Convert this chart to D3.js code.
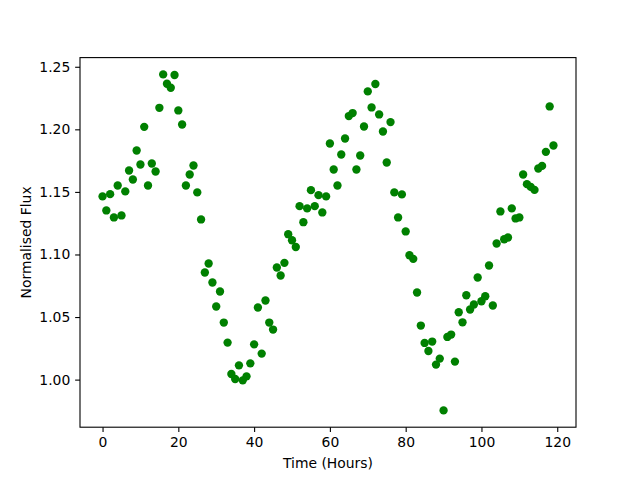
<!DOCTYPE html>
<html>
<head>
<meta charset="utf-8">
<script src="https://cdn.jsdelivr.net/npm/d3@7"></script>
<style>
  html, body { margin: 0; padding: 0; background: #fff; }
  svg { display: block; }
  text { font-family: "DejaVu Sans", sans-serif; fill: #000; }
</style>
</head>
<body>
<svg id="chart" width="640" height="480"></svg>
<script>
const hours = d3.range(0, 120);
const flux = [
  1.1464, 1.1352, 1.1482, 1.1296, 1.1551, 1.1312, 1.1504, 1.1671, 1.1599, 1.1831,
  1.1719, 1.2020, 1.1551, 1.1727, 1.1663, 1.2172, 1.2439, 1.2364, 1.2332, 1.2434,
  1.2151, 1.2039, 1.1551, 1.1639, 1.1711, 1.1496, 1.1280, 1.0856, 1.0928, 1.0776,
  1.0584, 1.0704, 1.0456, 1.0296, 1.0045, 1.0005, 1.0114, 0.9994, 1.0026, 1.0130,
  1.0282, 1.0576, 1.0208, 1.0632, 1.0456, 1.0400, 1.0896, 1.0832, 1.0933, 1.1162,
  1.1114, 1.1060, 1.1386, 1.1258, 1.1368, 1.1514, 1.1386, 1.1474, 1.1336, 1.1464,
  1.1887, 1.1679, 1.1551, 1.1799, 1.1927, 1.2106, 1.2130, 1.1679, 1.1791, 1.2023,
  1.2303, 1.2175, 1.2362, 1.2119, 1.1983, 1.1735, 1.2058, 1.1496, 1.1296, 1.1480,
  1.1184, 1.0994, 1.0965, 1.0696, 1.0432, 1.0293, 1.0229, 1.0304, 1.0120, 1.0168,
  0.9754, 1.0341, 1.0360, 1.0144, 1.0538, 1.0458, 1.0674, 1.0560, 1.0600, 1.0816,
  1.0626, 1.0666, 1.0912, 1.0592, 1.1088, 1.1344, 1.1122, 1.1136, 1.1368, 1.1288,
  1.1296, 1.1639, 1.1562, 1.1540, 1.1516, 1.1687, 1.1708, 1.1820, 1.2183, 1.1871
];
const xTicks = [0, 20, 40, 60, 80, 100, 120];
const yTicks = [1.00, 1.05, 1.10, 1.15, 1.20, 1.25];
const xLabel = "Time (Hours)";
const yLabel = "Normalised Flux";

const W = 640, H = 480;
const m = { left: 80, right: 64, top: 57.6, bottom: 52.8 };
const pw = W - m.left - m.right, ph = H - m.top - m.bottom;

const svg = d3.select("#chart");
const g = svg.append("g").attr("transform", `translate(${m.left},${m.top})`);

const xmin = d3.min(hours), xmax = d3.max(hours);
const xpad = (xmax - xmin) * 0.05;
const ymin = d3.min(flux), ymax = d3.max(flux);
const ypad = (ymax - ymin) * 0.05;

const x = d3.scaleLinear().domain([xmin - xpad, xmax + xpad]).range([0, pw]);
const y = d3.scaleLinear().domain([ymin - ypad, ymax + ypad]).range([ph, 0]);

const data = hours.map((h, i) => ({ h, f: flux[i] }));

g.append("g").selectAll("circle").data(data).enter().append("circle")
  .attr("cx", d => x(d.h)).attr("cy", d => y(d.f))
  .attr("r", 4.17).attr("fill", "#008000");

const xAxis = d3.axisBottom(x).tickValues(xTicks).tickFormat(d3.format("d"))
  .tickSizeInner(4.86).tickSizeOuter(0).tickPadding(4.86);
const yAxis = d3.axisLeft(y).tickValues(yTicks).tickFormat(d3.format(".2f"))
  .tickSizeInner(4.86).tickSizeOuter(0).tickPadding(4.86);

const gx = g.append("g").attr("transform", `translate(0,${ph})`).call(xAxis);
const gy = g.append("g").call(yAxis);
[gx, gy].forEach(a => {
  a.select(".domain").remove();
  a.selectAll(".tick line").attr("stroke", "#000").attr("stroke-width", 1.1);
  a.selectAll(".tick text").attr("font-size", "13.9px")
    .attr("font-family", "DejaVu Sans, sans-serif").attr("fill", "#000");
});

g.append("rect").attr("x", 0).attr("y", 0).attr("width", pw).attr("height", ph)
  .attr("fill", "none").attr("stroke", "#000").attr("stroke-width", 1.1);

svg.append("text").attr("x", m.left + pw / 2).attr("y", 468)
  .attr("text-anchor", "middle").attr("font-size", "13.9px").text(xLabel);

svg.append("text")
  .attr("transform", `translate(31,${m.top + ph / 2}) rotate(-90)`)
  .attr("text-anchor", "middle").attr("font-size", "13.9px").text(yLabel);
</script>
</body>
</html>
